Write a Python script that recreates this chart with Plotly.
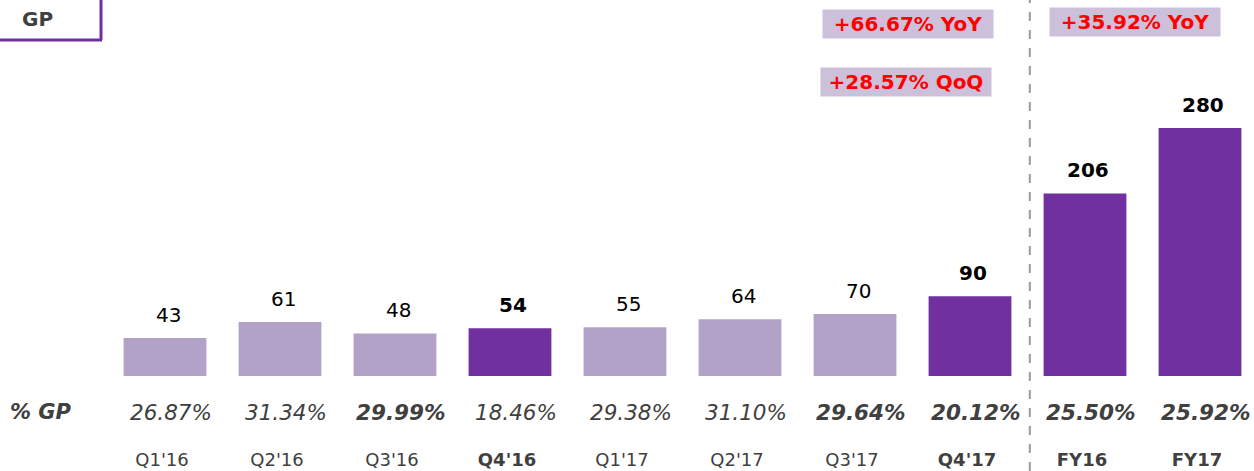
import plotly.graph_objects as go

categories = ["Q1'16", "Q2'16", "Q3'16", "Q4'16", "Q1'17", "Q2'17", "Q3'17", "Q4'17", "FY16", "FY17"]
gp_values = [43, 61, 48, 54, 55, 64, 70, 90, 206, 280]
gp_pct = ["26.87%", "31.34%", "29.99%", "18.46%", "29.38%", "31.10%", "29.64%", "20.12%", "25.50%", "25.92%"]
pct_bold = [False, False, True, False, False, False, True, True, True, True]
highlight = [False, False, False, True, False, False, False, True, True, True]
badges = ["+66.67% YoY", "+28.57% QoQ", "+35.92% YoY"]

DARK = "#7030A0"
LIGHT = "#B3A2C7"
GRAY = "#404040"
FONT = "DejaVu Sans"

W, H = 1254, 471
PLOT_H = 376  # plot area height in px (margin bottom = 95)

def py(p):
    return (PLOT_H - p) / PLOT_H

def px(p):
    return p / W

xs = list(range(len(categories)))
colors = [DARK if h else LIGHT for h in highlight]
texts = [f"<b>{v}</b>" if h else str(v) for v, h in zip(gp_values, highlight)]
ticktext = [f"<b>{c}</b>" if h else c for c, h in zip(categories, highlight)]

fig = go.Figure()
fig.add_trace(go.Bar(
    x=xs, y=gp_values, marker=dict(color=colors, line=dict(width=0)),
    width=0.72, hoverinfo="skip",
))

annotations = []
# value labels above bars
for x, v, t in zip(xs, gp_values, texts):
    annotations.append(dict(x=x + 0.03, y=v, xref="x", yref="y", text=t, showarrow=False,
                            xanchor="center", yanchor="bottom", yshift=9,
                            font=dict(family=FONT, size=20, color="#000000")))
# % GP row
annotations.append(dict(x=px(41), y=py(412), xref="paper", yref="paper",
                        xanchor="center", yanchor="middle",
                        text="<b><i>% GP</i></b>", showarrow=False,
                        font=dict(family=FONT, size=21, color=GRAY)))
for x, t, b in zip(xs, gp_pct, pct_bold):
    txt = f"<i>{t}</i>"
    if b:
        txt = f"<b>{txt}</b>"
    annotations.append(dict(x=x + 0.05, y=py(412), xref="x", yref="paper",
                            xanchor="center", yanchor="middle",
                            text=txt, showarrow=False,
                            font=dict(family=FONT, size=21.5, color=GRAY)))

# badges
badge_pos = [(908, 24), (906, 82), (1135, 22)]
for b, (bx, by) in zip(badges, badge_pos):
    annotations.append(dict(x=px(bx), y=py(by), xref="paper", yref="paper",
                            xanchor="center", yanchor="middle",
                            text=f"<b>{b}</b>", showarrow=False,
                            bgcolor="#CCC0DA", width=170, height=28, borderpad=0,
                            font=dict(family=FONT, size=20, color="#FF0000")))

# GP tag
annotations.append(dict(x=px(37), y=py(19), xref="paper", yref="paper",
                        xanchor="center", yanchor="middle",
                        text="<b>GP</b>", showarrow=False,
                        font=dict(family=FONT, size=20, color=GRAY)))

shapes = [
    dict(type="line", xref="paper", yref="paper", x0=0, x1=px(102), y0=py(40), y1=py(40),
         line=dict(color=DARK, width=3)),
    dict(type="line", xref="paper", yref="paper", x0=px(101), x1=px(101), y0=py(40), y1=py(-2),
         line=dict(color=DARK, width=3)),
    dict(type="line", xref="x", yref="paper", x0=7.52, x1=7.52, y0=py(471), y1=py(0),
         line=dict(color="#9A9A9A", width=2, dash="dash")),
]

fig.update_layout(
    width=W, height=H,
    margin=dict(l=0, r=0, t=0, b=H - PLOT_H, pad=0),
    paper_bgcolor="white", plot_bgcolor="white",
    showlegend=False,
    bargap=0.28,
    hovermode=False,
    xaxis=dict(range=[-165 / 115, (W - 165) / 115], tickmode="array", tickvals=xs,
               ticktext=ticktext, showgrid=False, zeroline=False, showline=False,
               ticks="", ticklabelstandoff=71, ticklabelshift=-3, fixedrange=True,
               tickfont=dict(family=FONT, size=18, color=GRAY)),
    yaxis=dict(range=[0, PLOT_H / 0.886], visible=False, showgrid=False, zeroline=False,
               fixedrange=True),
    annotations=annotations,
    shapes=shapes,
)

fig.write_html("out.html", config={"displayModeBar": False},
               post_script="document.body.style.margin='0';document.body.style.padding='0';")
